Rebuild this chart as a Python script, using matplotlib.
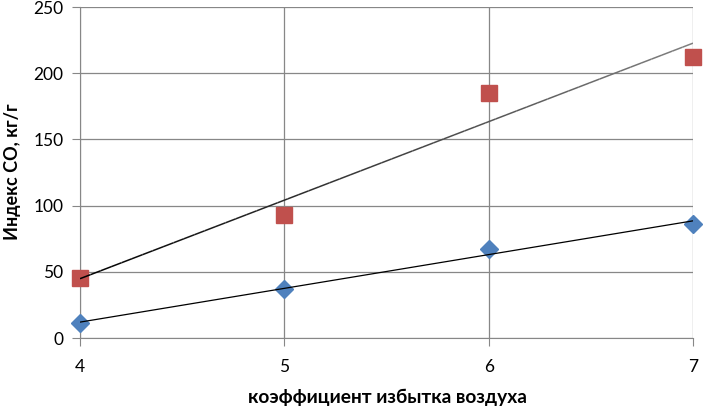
import numpy as np
import matplotlib.pyplot as plt
from matplotlib.collections import LineCollection

plt.rcParams['font.family'] = ['Lato', 'DejaVu Sans']

alpha = [4, 5, 6, 7]
co_red = [45, 93, 185, 212]
co_blue = [11, 37, 67, 86]

fig = plt.figure(figsize=(7.06, 4.07), dpi=100)
ax = fig.add_axes([0.1133, 0.1695, 0.8683, 0.8133])

ax.plot(alpha, co_red, 's', color='#C0504D', markersize=11.5, zorder=3, clip_on=False)
ax.plot(alpha, co_blue, 'D', color='#4F81BD', markersize=9.5, zorder=3, clip_on=False)

# linear trend lines
xs = np.linspace(min(alpha), max(alpha), 60)
k, b = np.polyfit(alpha, co_red, 1)
ys = k * xs + b
pts = np.column_stack([xs, ys]).reshape(-1, 1, 2)
segs = np.concatenate([pts[:-1], pts[1:]], axis=1)
shade = np.linspace(0.0, 0.5, len(segs))
lc = LineCollection(segs, colors=[(s, s, s) for s in shade], linewidths=1.1, zorder=4)
ax.add_collection(lc)

k2, b2 = np.polyfit(alpha, co_blue, 1)
ax.plot(xs, k2 * xs + b2, color='black', lw=0.9, zorder=4)

ax.set_xlim(4, 7)
ax.set_ylim(0, 250)
ax.set_xticks([4, 5, 6, 7])
ax.set_yticks(np.arange(0, 251, 50))
ax.grid(True, color='#878787', lw=0.9)
ax.set_axisbelow(True)
for s in ['top', 'right']:
    ax.spines[s].set_visible(False)
for s in ['left', 'bottom']:
    ax.spines[s].set_color('#878787')
ax.tick_params(length=6, color='#878787', labelsize=12.5, pad=6)
ax.tick_params(axis='x', pad=9)

# axis titles placed like the original
fig.text(387 / 706, 1 - 403 / 407, 'коэффициент избытка воздуха', fontsize=13.8,
         fontweight='bold', ha='center', va='baseline')
fig.text(13 / 706, 1 - 172 / 407, 'Индекс CO, кг/г', fontsize=13,
         fontweight='bold', ha='center', va='center', rotation=90)

fig.savefig('out.png', dpi=100)
